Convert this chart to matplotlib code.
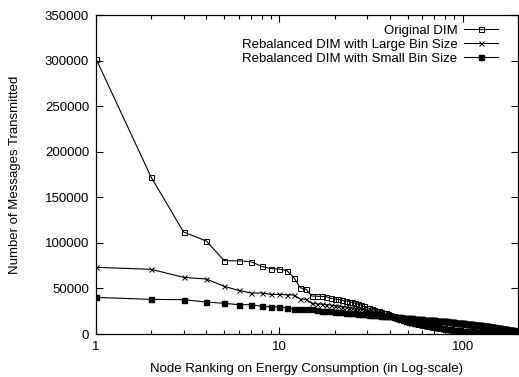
import matplotlib
matplotlib.use("Agg")
import matplotlib.pyplot as plt
import numpy as np
from matplotlib.ticker import LogLocator, FixedLocator, NullFormatter, FixedFormatter

plt.rcParams['font.family'] = ['Liberation Sans', 'DejaVu Sans']

# messages per node (in thousands), node ranked 1..200 by energy consumption
original = [
    302, 172, 112, 102, 80.5, 80.3, 79.3, 74.3, 71.7, 71.3, 69.5, 61.8, 50.8, 49.0, 41.7,
    41.5, 41.3, 41.0, 39.2, 38.5,
    38.0, 37.2, 36.4, 35.6, 34.6, 33.6, 32.6, 31.5, 30.3, 29.0,
    28.2, 27.4, 26.6, 25.8, 25.0, 24.2, 23.4, 22.6, 21.8, 21.0,
    20.2, 19.4, 18.6, 17.8, 17.0, 16.4, 15.8, 15.2, 14.6, 14.0,
    13.6, 13.2, 12.8, 12.4, 12.0, 11.7, 11.4, 11.1, 10.8, 10.5,
    10.2, 9.9, 9.7, 9.4, 9.2, 8.9, 8.7, 8.5, 8.2, 8.0,
    7.8, 7.6, 7.4, 7.2, 7.0, 6.8, 6.6, 6.4, 6.2, 6.0,
    5.8, 5.7, 5.5, 5.4, 5.2, 5.1, 4.9, 4.8, 4.6, 4.5,
    4.4, 4.3, 4.2, 4.1, 4.0, 3.9, 3.8, 3.7, 3.6, 3.5,
    3.4, 3.4, 3.3, 3.2, 3.2, 3.1, 3.0, 3.0, 2.9, 2.9,
    2.8, 2.8, 2.7, 2.7, 2.6, 2.6, 2.5, 2.5, 2.4, 2.3,
    2.3, 2.2, 2.2, 2.1, 2.1, 2.0, 2.0, 1.9, 1.9, 1.9,
    1.8, 1.8, 1.7, 1.7, 1.7, 1.6, 1.6, 1.5, 1.5, 1.5,
    1.4, 1.4, 1.4, 1.3, 1.3, 1.3, 1.2, 1.2, 1.2, 1.2,
    1.1, 1.1, 1.1, 1.0, 1.0, 1.0, 1.0, 0.9, 0.9, 0.9,
    0.9, 0.8, 0.8, 0.8, 0.8, 0.8, 0.7, 0.7, 0.7, 0.7,
    0.7, 0.6, 0.6, 0.6, 0.6, 0.6, 0.5, 0.5, 0.5, 0.5,
    0.5, 0.5, 0.4, 0.4, 0.4, 0.4, 0.4, 0.4, 0.3, 0.3,
    0.3, 0.3, 0.3, 0.3, 0.3, 0.2, 0.2, 0.2, 0.2, 0.2,
]

large_bin = [
    73.2, 71.0, 62.2, 60.3, 52.3, 47.9, 45.0, 45.0, 43.5, 43.5, 43.0, 42.8, 38.4, 38.0, 33.7,
    33.2, 32.8, 32.3, 31.8, 31.2,
    30.7, 30.2, 29.6, 29.1, 28.5, 28.0, 27.5, 27.0, 26.5, 26.0,
    25.4, 24.8, 24.2, 23.6, 23.0, 22.4, 21.8, 21.2, 20.6, 20.0,
    19.3, 18.6, 17.9, 17.2, 16.5, 15.8, 15.1, 14.4, 13.7, 13.0,
    12.7, 12.4, 12.1, 11.8, 11.5, 11.2, 10.9, 10.6, 10.3, 10.0,
    9.7, 9.5, 9.2, 9.0, 8.7, 8.5, 8.2, 8.0, 7.7, 7.5,
    7.3, 7.1, 6.9, 6.7, 6.5, 6.3, 6.1, 5.9, 5.7, 5.5,
    5.3, 5.2, 5.0, 4.9, 4.7, 4.6, 4.4, 4.3, 4.1, 4.0,
    3.9, 3.8, 3.7, 3.6, 3.5, 3.4, 3.3, 3.2, 3.1, 3.0,
    2.9, 2.9, 2.8, 2.8, 2.7, 2.7, 2.6, 2.6, 2.5, 2.5,
    2.4, 2.4, 2.3, 2.3, 2.2, 2.2, 2.1, 2.1, 2.0, 2.0,
    1.9, 1.9, 1.8, 1.8, 1.8, 1.7, 1.7, 1.6, 1.6, 1.6,
    1.5, 1.5, 1.5, 1.4, 1.4, 1.4, 1.3, 1.3, 1.3, 1.2,
    1.2, 1.2, 1.1, 1.1, 1.1, 1.1, 1.0, 1.0, 1.0, 1.0,
    0.9, 0.9, 0.9, 0.9, 0.8, 0.8, 0.8, 0.8, 0.7, 0.7,
    0.7, 0.7, 0.7, 0.6, 0.6, 0.6, 0.6, 0.6, 0.5, 0.5,
    0.5, 0.5, 0.5, 0.5, 0.4, 0.4, 0.4, 0.4, 0.4, 0.4,
    0.3, 0.3, 0.3, 0.3, 0.3, 0.3, 0.3, 0.3, 0.2, 0.2,
    0.2, 0.2, 0.2, 0.2, 0.2, 0.2, 0.2, 0.1, 0.1, 0.1,
]

small_bin = [
    40.2, 38.0, 37.7, 35.1, 33.7, 32.2, 32.2, 30.4, 29.7, 29.7, 28.5, 27.4, 27.4, 27.4, 27.2,
    26.0, 25.7, 25.3, 24.9, 24.5,
    24.2, 23.9, 23.6, 23.3, 23.0, 22.7, 22.4, 22.1, 21.8, 21.5,
    21.3, 21.1, 20.9, 20.7, 20.5, 20.3, 20.1, 19.9, 19.7, 19.5,
    19.3, 19.1, 18.9, 18.7, 18.5, 18.3, 18.1, 17.9, 17.7, 17.5,
    17.4, 17.2, 17.1, 16.9, 16.8, 16.6, 16.5, 16.3, 16.2, 16.0,
    15.9, 15.8, 15.7, 15.6, 15.5, 15.4, 15.3, 15.2, 15.1, 15.0,
    14.9, 14.8, 14.7, 14.6, 14.5, 14.4, 14.3, 14.2, 14.1, 14.0,
    13.9, 13.8, 13.6, 13.5, 13.4, 13.3, 13.1, 13.0, 12.9, 12.7,
    12.6, 12.5, 12.4, 12.4, 12.3, 12.2, 12.1, 12.0, 11.9, 11.8,
    11.7, 11.6, 11.5, 11.4, 11.3, 11.2, 11.1, 11.0, 10.9, 10.8,
    10.7, 10.6, 10.5, 10.4, 10.4, 10.3, 10.2, 10.1, 10.0, 10.0,
    9.9, 9.8, 9.7, 9.6, 9.5, 9.4, 9.3, 9.2, 9.1, 9.0,
    8.9, 8.8, 8.7, 8.6, 8.5, 8.4, 8.4, 8.3, 8.2, 8.1,
    8.0, 7.9, 7.8, 7.7, 7.6, 7.5, 7.4, 7.3, 7.2, 7.1,
    7.0, 6.9, 6.8, 6.7, 6.6, 6.5, 6.4, 6.3, 6.2, 6.1,
    6.0, 5.9, 5.8, 5.8, 5.7, 5.6, 5.5, 5.4, 5.3, 5.2,
    5.1, 5.0, 5.0, 4.9, 4.8, 4.7, 4.6, 4.6, 4.5, 4.4,
    4.3, 4.3, 4.2, 4.1, 4.0, 4.0, 3.9, 3.8, 3.8, 3.7,
    3.6, 3.6, 3.5, 3.5, 3.4, 3.4, 3.3, 3.3, 3.2, 3.2,
]

labels = ["Original DIM", "Rebalanced DIM with Large Bin Size",
          "Rebalanced DIM with Small Bin Size"]
y_ticks = [0, 50000, 100000, 150000, 200000, 250000, 300000, 350000]

rank = np.arange(1, len(original) + 1)

fig = plt.figure(figsize=(5.19, 3.77), dpi=100)
ax = fig.add_axes([0.185, 0.114, 0.813, 0.846])

ax.plot(rank, np.array(original) * 1000, color='black', lw=0.8,
        marker='s', ms=3.6, mfc='none', mec='black', mew=0.7, label=labels[0])
ax.plot(rank, np.array(large_bin) * 1000, color='black', lw=0.8,
        marker='x', ms=3.6, mew=0.7, label=labels[1])
ax.plot(rank, np.array(small_bin) * 1000, color='black', lw=0.8,
        marker='s', ms=3.6, mfc='black', mec='black', label=labels[2])

ax.set_xscale('log')
ax.set_xlim(1, 200)
ax.set_ylim(0, 350000)
ax.xaxis.set_major_locator(FixedLocator([1, 10, 100]))
ax.xaxis.set_major_formatter(FixedFormatter(['1', '10', '100']))
ax.xaxis.set_minor_locator(LogLocator(base=10, subs=np.arange(2, 10)))
ax.xaxis.set_minor_formatter(NullFormatter())
ax.set_yticks(y_ticks)
ax.set_yticklabels([str(v) for v in y_ticks])

ax.tick_params(which='both', direction='in', top=True, right=True,
               labelsize=9.5, width=0.8)
ax.tick_params(which='major', length=5, pad=5)
ax.tick_params(which='minor', length=3)
for s in ax.spines.values():
    s.set_linewidth(0.9)

ax.set_xlabel("Node Ranking on Energy Consumption (in Log-scale)", fontsize=9.5, labelpad=7)
ax.set_ylabel("Number of Messages Transmitted", fontsize=9.5, labelpad=17)

ax.legend(loc='upper right', frameon=False, markerfirst=False, fontsize=9.5,
          handlelength=2.6, labelspacing=0.15, borderaxespad=0.3,
          handletextpad=0.5, bbox_to_anchor=(0.975, 1.0))

fig.savefig("out.png", dpi=100)
